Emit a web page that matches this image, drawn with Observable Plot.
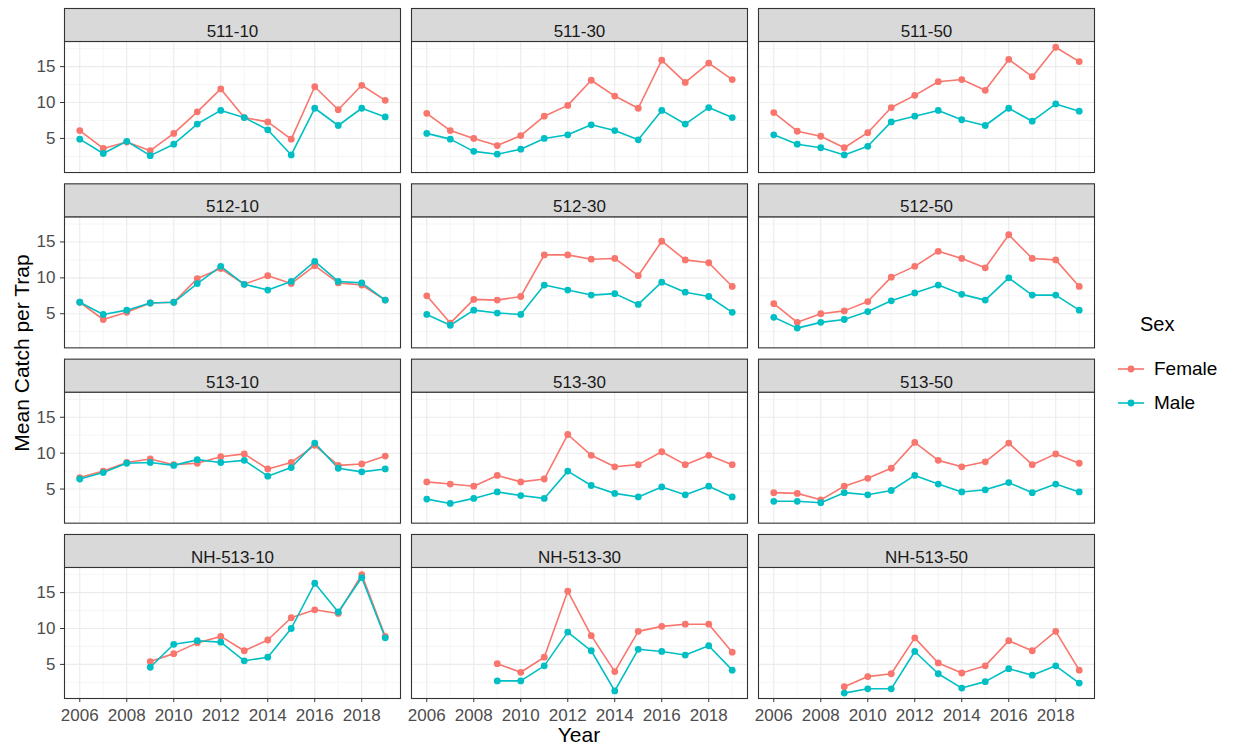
<!DOCTYPE html>
<html>
<head>
<meta charset="utf-8">
<script src="https://cdn.jsdelivr.net/npm/d3@7"></script>
<script src="https://cdn.jsdelivr.net/npm/@observablehq/plot@0.6"></script>
<style>
  body { margin: 0; background: #fff; font-family: "Liberation Sans", Arial, sans-serif; }
  #wrap { position: relative; width: 1236px; height: 748px; overflow: hidden; }
  #chart { position: absolute; left: 0; top: 0; }
  .ylab { position: absolute; left: 22px; top: 353px; transform: translate(-50%, -50%) rotate(-90deg);
          font-size: 21px; line-height: 22px; color: #000; white-space: nowrap; }
  .xlab { position: absolute; left: 579px; top: 735px; transform: translate(-50%, -50%);
          font-size: 21px; line-height: 22px; color: #000; white-space: nowrap; }
  .legend { position: absolute; left: 1116px; top: 310px; }
  .legend .title { font-size: 20px; color: #000; margin-left: 24px; height: 28px; line-height: 28px; margin-bottom: 14px; }
  .legend .row { display: flex; align-items: center; height: 34px; }
  .legend .row span { font-size: 19px; color: #000; margin-left: 8px; }
</style>
</head>
<body>
<div id="wrap">
  <div id="chart"></div>
  <div class="ylab">Mean Catch per Trap</div>
  <div class="xlab">Year</div>
  <div class="legend" id="legend"></div>
</div>
<script>
const years = [2006, 2007, 2008, 2009, 2010, 2011, 2012, 2013, 2014, 2015, 2016, 2017, 2018, 2019];
const sites = ["511-10", "511-30", "511-50", "512-10", "512-30", "512-50",
               "513-10", "513-30", "513-50", "NH-513-10", "NH-513-30", "NH-513-50"];
const sexes = ["Female", "Male"];
const sexColors = ["#F8766D", "#00BFC4"];
const xTicks = [2006, 2008, 2010, 2012, 2014, 2016, 2018];
const yTicks = [5, 10, 15];

const female = [
  [6.1, 3.6, 4.5, 3.3, 5.7, 8.7, 11.9, 7.9, 7.3, 4.9, 12.2, 9.0, 12.4, 10.3],
  [8.5, 6.1, 5.0, 4.0, 5.4, 8.1, 9.6, 13.1, 10.9, 9.2, 15.9, 12.8, 15.5, 13.2],
  [8.6, 6.0, 5.3, 3.7, 5.8, 9.3, 11.0, 12.9, 13.2, 11.7, 16.0, 13.6, 17.7, 15.7],
  [6.6, 4.2, 5.2, 6.5, 6.6, 9.9, 11.3, 9.1, 10.3, 9.2, 11.7, 9.3, 9.0, 6.9],
  [7.5, 3.7, 7.0, 6.9, 7.4, 13.2, 13.2, 12.6, 12.7, 10.3, 15.1, 12.5, 12.1, 8.8],
  [6.4, 3.8, 5.0, 5.4, 6.7, 10.1, 11.6, 13.7, 12.7, 11.4, 16.0, 12.7, 12.5, 8.8],
  [6.6, 7.5, 8.7, 9.2, 8.4, 8.6, 9.5, 9.9, 7.8, 8.7, 11.1, 8.3, 8.5, 9.6],
  [6.0, 5.7, 5.4, 6.9, 6.0, 6.4, 12.6, 9.7, 8.1, 8.4, 10.2, 8.4, 9.7, 8.4],
  [4.5, 4.4, 3.5, 5.4, 6.5, 7.9, 11.5, 9.0, 8.1, 8.8, 11.4, 8.4, 9.9, 8.6],
  [null, null, null, 5.4, 6.5, 8.0, 8.9, 6.9, 8.4, 11.5, 12.6, 12.1, 17.5, 8.9],
  [null, null, null, 5.1, 3.9, 6.0, 15.2, 9.0, 4.0, 9.6, 10.3, 10.6, 10.6, 6.7],
  [null, null, null, 1.9, 3.3, 3.7, 8.7, 5.2, 3.8, 4.8, 8.3, 6.9, 9.6, 4.2]
];
const male = [
  [4.9, 2.9, 4.6, 2.6, 4.2, 7.0, 8.9, 7.9, 6.2, 2.7, 9.2, 6.8, 9.2, 8.0],
  [5.7, 4.9, 3.2, 2.8, 3.5, 5.0, 5.5, 6.9, 6.1, 4.8, 8.9, 7.0, 9.3, 7.9],
  [5.5, 4.2, 3.7, 2.7, 3.9, 7.3, 8.1, 8.9, 7.6, 6.8, 9.2, 7.4, 9.8, 8.8],
  [6.6, 4.9, 5.5, 6.5, 6.6, 9.2, 11.6, 9.1, 8.3, 9.5, 12.3, 9.5, 9.3, 6.9],
  [4.9, 3.4, 5.5, 5.1, 4.9, 9.0, 8.3, 7.6, 7.8, 6.3, 9.4, 8.0, 7.4, 5.2],
  [4.5, 3.0, 3.8, 4.2, 5.3, 6.8, 7.9, 9.0, 7.7, 6.9, 10.0, 7.6, 7.6, 5.5],
  [6.4, 7.3, 8.6, 8.7, 8.3, 9.1, 8.7, 9.0, 6.8, 8.0, 11.4, 7.9, 7.4, 7.8],
  [3.6, 3.0, 3.7, 4.6, 4.1, 3.7, 7.5, 5.5, 4.4, 3.9, 5.3, 4.2, 5.4, 3.9],
  [3.3, 3.3, 3.1, 4.5, 4.2, 4.8, 6.9, 5.7, 4.6, 4.9, 5.9, 4.5, 5.7, 4.6],
  [null, null, null, 4.6, 7.8, 8.3, 8.1, 5.5, 6.0, 10.0, 16.3, 12.3, 17.1, 8.7],
  [null, null, null, 2.7, 2.7, 4.8, 9.5, 6.9, 1.3, 7.1, 6.8, 6.3, 7.6, 4.2],
  [null, null, null, 1.0, 1.6, 1.6, 6.8, 3.7, 1.7, 2.6, 4.4, 3.5, 4.8, 2.4]
];

// facet keys derived from site names
const siteInfo = sites.map(s => {
  const i = s.lastIndexOf("-");
  return {site: s, row: s.slice(0, i), col: s.slice(i + 1)};
});
const rowKeys = [...new Set(siteInfo.map(d => d.row))];
const colKeys = [...new Set(siteInfo.map(d => d.col))];

const table = [];
siteInfo.forEach((info, si) => {
  [female, male].forEach((series, k) => {
    series[si].forEach((v, yi) => {
      if (v != null) table.push({...info, sex: sexes[k], year: years[yi], value: v});
    });
  });
});

// layout
const W = 1236, H = 748;
const mL = 64, mR = 142, mT = 41, mB = 50;
const gapX = 11, gapY = 44.3, stripH = 33;
const stepX = (W - mL - mR + gapX) / colKeys.length;
const stepY = (H - mT - mB + gapY) / rowKeys.length;
const panelH = stepY - gapY;

const minorX = years.filter(y => y % 2 === 1);
const minorY = [2.5, 7.5, 12.5, 17.5];

const chart = Plot.plot({
  width: W, height: H,
  marginLeft: mL, marginRight: mR, marginTop: mT, marginBottom: mB,
  style: {fontFamily: "'Liberation Sans', Arial, sans-serif", background: "#fff", overflow: "visible"},
  fx: {domain: colKeys, paddingInner: gapX / stepX, paddingOuter: 0, round: false, axis: null},
  fy: {domain: rowKeys, paddingInner: gapY / stepY, paddingOuter: 0, round: false, axis: null},
  x: {domain: [2005.35, 2019.65]},
  y: {domain: [0.25, 18.5]},
  color: {domain: sexes, range: sexColors},
  marks: [
    Plot.ruleX(minorX, {stroke: "#EFEFEF", strokeWidth: 0.6}),
    Plot.ruleY(minorY, {stroke: "#EFEFEF", strokeWidth: 0.6}),
    Plot.ruleX(xTicks, {stroke: "#EBEBEB", strokeWidth: 1.1}),
    Plot.ruleY(yTicks, {stroke: "#EBEBEB", strokeWidth: 1.1}),
    Plot.line(table, {fx: "col", fy: "row", x: "year", y: "value", z: "sex", stroke: "sex", strokeWidth: 1.6}),
    Plot.dot(table, {fx: "col", fy: "row", x: "year", y: "value", fill: "sex", r: 3.4}),
    Plot.frame({stroke: "#333333", strokeWidth: 1.1}),
    Plot.frame({fill: "#D9D9D9", stroke: "#333333", strokeWidth: 1.1, insetBottom: panelH - stripH, dy: -stripH}),
    Plot.text(siteInfo, {fx: "col", fy: "row", text: "site", frameAnchor: "top", dy: -stripH / 2,
                         fontSize: 17, fill: "#1A1A1A"}),
    Plot.axisX({ticks: xTicks, tickFormat: d => String(d), tickSize: 4, tickPadding: 6,
                fontSize: 17, fill: "#4D4D4D", stroke: "#333333", label: null}),
    Plot.axisY({ticks: yTicks, tickSize: 4, tickPadding: 5, fontSize: 17,
                fill: "#4D4D4D", stroke: "#333333", label: null})
  ]
});
document.getElementById("chart").appendChild(chart);

// legend
const legend = document.getElementById("legend");
legend.innerHTML = `<div class="title">Sex</div>` + sexes.map((s, i) =>
  `<div class="row"><svg width="30" height="30"><line x1="2" x2="28" y1="15" y2="15" stroke="${sexColors[i]}" stroke-width="1.6"/>` +
  `<circle cx="15" cy="15" r="3.4" fill="${sexColors[i]}"/></svg><span>${s}</span></div>`).join("");
</script>
</body>
</html>
